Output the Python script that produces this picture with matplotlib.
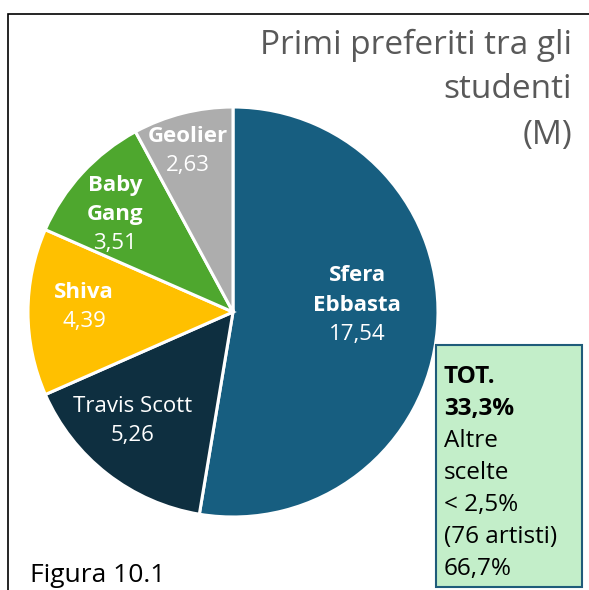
import matplotlib.pyplot as plt
import numpy as np
from matplotlib.patches import Rectangle

plt.rcParams['font.family'] = ['Open Sans', 'DejaVu Sans']

artisti = ['Sfera\nEbbasta', 'Travis Scott', 'Shiva', 'Baby\nGang', 'Geolier']
valori = [17.54, 5.26, 4.39, 3.51, 2.63]
colori = ['#175e80', '#0e2f40', '#ffc000', '#4ea72e', '#adadad']
grassetto = [True, False, True, True, True]

titolo = ['Primi preferiti tra gli', 'studenti', '(M)']
box_righe = ['TOT.', '33,3%', 'Altre', 'scelte', '< 2,5%', '(76 artisti)', '66,7%']
box_bold = [True, True, False, False, False, False, False]

# posizione etichette: distanza dal centro e spostamento angolare (gradi)
dist_etichette = [0.606, 0.722, 0.727, 0.745, 0.816]
delta_ang = [7.9, -4.7, -2.0, 3.1, 1.4]

W, H = 589, 590
fig = plt.figure(figsize=(W / 100, H / 100), dpi=100)

# cornice esterna
fig.patches.append(Rectangle((8 / W, -0.1), 1.2, 1 - 14 / H + 0.1, transform=fig.transFigure,
                             fill=False, edgecolor='black', linewidth=1.2))

cx, cy, r = 233, 312, 205
ax = fig.add_axes([(cx - r) / W, (H - cy - r) / H, 2 * r / W, 2 * r / H])
wedges, _ = ax.pie(valori, colors=colori, startangle=90, counterclock=False,
                   wedgeprops=dict(edgecolor='white', linewidth=2.2))
ax.set_xlim(-1, 1)
ax.set_ylim(-1, 1)
ax.axis('off')

passo = 21  # punti tra le righe
for w, nome, v, b, d, da in zip(wedges, artisti, valori, grassetto, dist_etichette, delta_ang):
    ang = np.deg2rad((w.theta1 + w.theta2) / 2 + da)
    x, y = d * np.cos(ang), d * np.sin(ang)
    righe = nome.split('\n') + [f'{v:.2f}'.replace('.', ',')]
    n = len(righe)
    for k, riga in enumerate(righe):
        off = ((n - 1) / 2 - k) * passo
        ultimo = k == n - 1
        ax.annotate(riga, (x, y), xytext=(0, off), textcoords='offset points',
                    ha='center', va='center', color='white', fontsize=16,
                    fontweight='bold' if (b and not ultimo) else 'normal')

for i, riga in enumerate(titolo):
    fig.text(572 / W, 1 - (45 + 45 * i) / H, riga, ha='right', va='center',
             color='#595959', fontsize=24)

fig.patches.append(Rectangle((436 / W, 1 - 587 / H), 146 / W, 242 / H, transform=fig.transFigure,
                             facecolor='#c3eec9', edgecolor='#1f5c7a', linewidth=1.5))
for i, riga in enumerate(box_righe):
    fig.text(444 / W, 1 - (377 + 32 * i) / H, riga, ha='left', va='center', color='black',
             fontsize=17.5, fontweight='bold' if box_bold[i] else 'normal')

fig.text(30 / W, 1 - 575 / H, 'Figura 10.1', ha='left', va='center', color='black', fontsize=19)

fig.savefig('out.png', dpi=100)
